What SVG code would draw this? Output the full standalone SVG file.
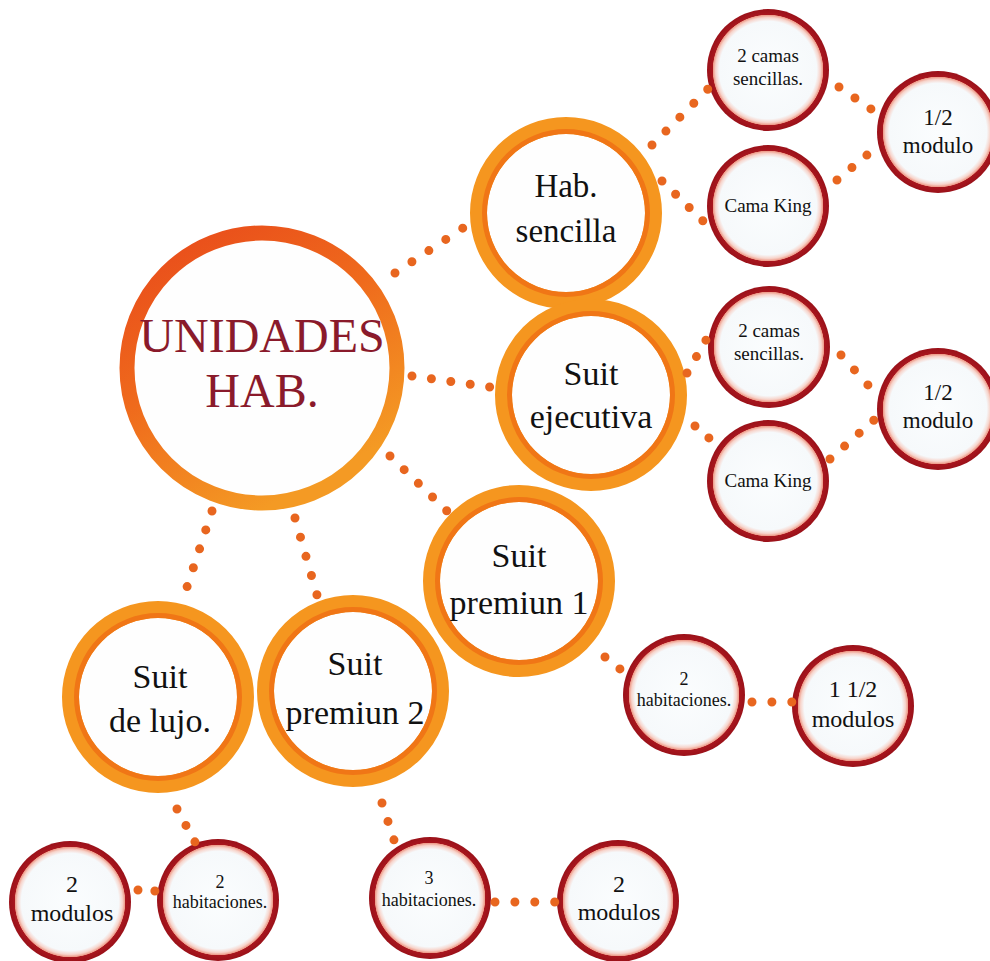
<svg xmlns="http://www.w3.org/2000/svg" width="990" height="961" viewBox="0 0 990 961" font-family="'Liberation Serif', 'Times New Roman', serif">
<defs>
<linearGradient id="gMain" x1="0" y1="0" x2="0.55" y2="1">
<stop offset="0" stop-color="#E8481B"/>
<stop offset="0.5" stop-color="#EF6A1C"/>
<stop offset="1" stop-color="#F49A24"/>
</linearGradient>
<radialGradient id="gSmall" cx="0.5" cy="0.5" r="0.5">
<stop offset="0" stop-color="#FBFDFE"/>
<stop offset="0.8" stop-color="#F6F9FB"/>
<stop offset="0.86" stop-color="#F7D4CB"/>
<stop offset="0.9" stop-color="#EE9A88"/>
<stop offset="0.91" stop-color="#A8161E"/>
<stop offset="1" stop-color="#9A1119"/>
</radialGradient>
</defs>
<style>
.con line{stroke:#E8661F;stroke-width:9;stroke-linecap:round;fill:none}
.big .ring{fill:#FEFEFE;stroke:#F5961F;stroke-width:17}
.big .inner{fill:none;stroke:#F07616;stroke-width:5}
.sm circle{fill:url(#gSmall)}
text{font-family:'Liberation Serif','Times New Roman',serif;text-anchor:middle;fill:#111111}
.bt{font-size:34px}
.st{font-size:19px}
.mt{font-size:23px}
.ht{font-size:18px}
.main{font-size:48px;fill:#8A1A2B}
</style>
<rect width="990" height="961" fill="#FFFFFF"/>
<g id="n-unidades">
<circle cx="262" cy="368" r="135" fill="#FEFEFE" stroke="url(#gMain)" stroke-width="15"/>
<text class="main" x="262" y="352">UNIDADES</text>
<text class="main" x="262" y="407">HAB.</text>
</g>
<g id="n-hab-sencilla" class="big">
<circle class="ring" cx="566" cy="213" r="87.5"/>
<circle class="inner" cx="566" cy="213" r="81.5"/>
<text class="bt" x="566" y="197" style="font-size:33px">Hab.</text>
<text class="bt" x="566" y="242" style="font-size:33px">sencilla</text>
</g>
<g id="n-suit-ejecutiva" class="big">
<circle class="ring" cx="591" cy="395" r="87.5"/>
<circle class="inner" cx="591" cy="395" r="81.5"/>
<text class="bt" x="591" y="385">Suit</text>
<text class="bt" x="591" y="428">ejecutiva</text>
</g>
<g id="n-suit-premiun-1" class="big">
<circle class="ring" cx="519" cy="581" r="87.5"/>
<circle class="inner" cx="519" cy="581" r="81.5"/>
<text class="bt" x="519" y="567">Suit</text>
<text class="bt" x="519" y="614">premiun 1</text>
</g>
<g id="n-suit-premiun-2" class="big">
<circle class="ring" cx="353" cy="691" r="87.5"/>
<circle class="inner" cx="353" cy="691" r="81.5"/>
<text class="bt" x="355" y="675">Suit</text>
<text class="bt" x="355" y="724">premiun 2</text>
</g>
<g id="n-suit-de-lujo" class="big">
<circle class="ring" cx="158" cy="697" r="87.5"/>
<circle class="inner" cx="158" cy="697" r="81.5"/>
<text class="bt" x="160" y="688">Suit</text>
<text class="bt" x="160" y="732">de lujo.</text>
</g>
<g id="n-camas-1" class="sm">
<circle cx="768" cy="70" r="61"/>
<text class="st" x="768" y="62">2 camas</text>
<text class="st" x="768" y="85">sencillas.</text>
</g>
<g id="n-modulo-1" class="sm">
<circle cx="938" cy="132" r="61"/>
<text class="mt" x="938" y="125">1/2</text>
<text class="mt" x="938" y="153">modulo</text>
</g>
<g id="n-king-1" class="sm">
<circle cx="768" cy="206" r="61"/>
<text class="st" x="768" y="212">Cama King</text>
</g>
<g id="n-camas-2" class="sm">
<circle cx="769" cy="347" r="61"/>
<text class="st" x="769" y="337">2 camas</text>
<text class="st" x="769" y="360">sencillas.</text>
</g>
<g id="n-modulo-2" class="sm">
<circle cx="938" cy="409" r="61"/>
<text class="mt" x="938" y="400">1/2</text>
<text class="mt" x="938" y="428">modulo</text>
</g>
<g id="n-king-2" class="sm">
<circle cx="768" cy="481" r="61"/>
<text class="st" x="768" y="487">Cama King</text>
</g>
<g id="n-hab-2a" class="sm">
<circle cx="684" cy="695" r="61"/>
<text class="ht" x="684" y="685">2</text>
<text class="ht" x="684" y="706">habitaciones.</text>
</g>
<g id="n-modulos-15" class="sm">
<circle cx="853" cy="706" r="61"/>
<text class="mt" x="853" y="697" style="font-size:24px">1 1/2</text>
<text class="mt" x="853" y="727" style="font-size:24px">modulos</text>
</g>
<g id="n-modulos-2a" class="sm">
<circle cx="70" cy="902" r="61"/>
<text class="mt" x="72" y="892" style="font-size:24px">2</text>
<text class="mt" x="72" y="921" style="font-size:24px">modulos</text>
</g>
<g id="n-hab-2b" class="sm">
<circle cx="218" cy="900" r="61"/>
<text class="ht" x="220" y="888">2</text>
<text class="ht" x="220" y="908">habitaciones.</text>
</g>
<g id="n-hab-3" class="sm">
<circle cx="430" cy="898" r="61"/>
<text class="ht" x="429" y="884">3</text>
<text class="ht" x="429" y="906">habitaciones.</text>
</g>
<g id="n-modulos-2b" class="sm">
<circle cx="618" cy="901" r="61"/>
<text class="mt" x="619" y="892" style="font-size:24px">2</text>
<text class="mt" x="619" y="920" style="font-size:24px">modulos</text>
</g>
<g id="connectors" class="con">
<line x1="395" y1="273" x2="463" y2="228" stroke-dasharray="0 20.3"/>
<line x1="412" y1="376" x2="490" y2="387" stroke-dasharray="0 19.6"/>
<line x1="390" y1="456" x2="447" y2="511" stroke-dasharray="0 19.7"/>
<line x1="295" y1="518" x2="317" y2="595" stroke-dasharray="0 19.95"/>
<line x1="212" y1="511" x2="187" y2="587" stroke-dasharray="0 19.9"/>
<line x1="652" y1="145" x2="708" y2="89" stroke-dasharray="0 19.7"/>
<line x1="662" y1="181" x2="703" y2="221" stroke-dasharray="0 19.0"/>
<line x1="839" y1="87" x2="871" y2="109" stroke-dasharray="0 19.35"/>
<line x1="837" y1="180" x2="867" y2="155" stroke-dasharray="0 19.45"/>
<line x1="687" y1="373" x2="706" y2="340" stroke-dasharray="0 18.95"/>
<line x1="695" y1="426" x2="709" y2="438" stroke-dasharray="0 18.3"/>
<line x1="841" y1="355" x2="868" y2="385" stroke-dasharray="0 20.1"/>
<line x1="830" y1="459" x2="874" y2="420" stroke-dasharray="0 19.5"/>
<line x1="605" y1="657" x2="620" y2="669" stroke-dasharray="0 19.1"/>
<line x1="752" y1="702" x2="792" y2="702" stroke-dasharray="0 19.9"/>
<line x1="382" y1="803" x2="394" y2="840" stroke-dasharray="0 19.35"/>
<line x1="495" y1="902" x2="555" y2="902" stroke-dasharray="0 19.9"/>
<line x1="177" y1="809" x2="195" y2="842" stroke-dasharray="0 18.7"/>
<line x1="138" y1="890" x2="155" y2="891" stroke-dasharray="0 16.9"/>
</g>
</svg>
